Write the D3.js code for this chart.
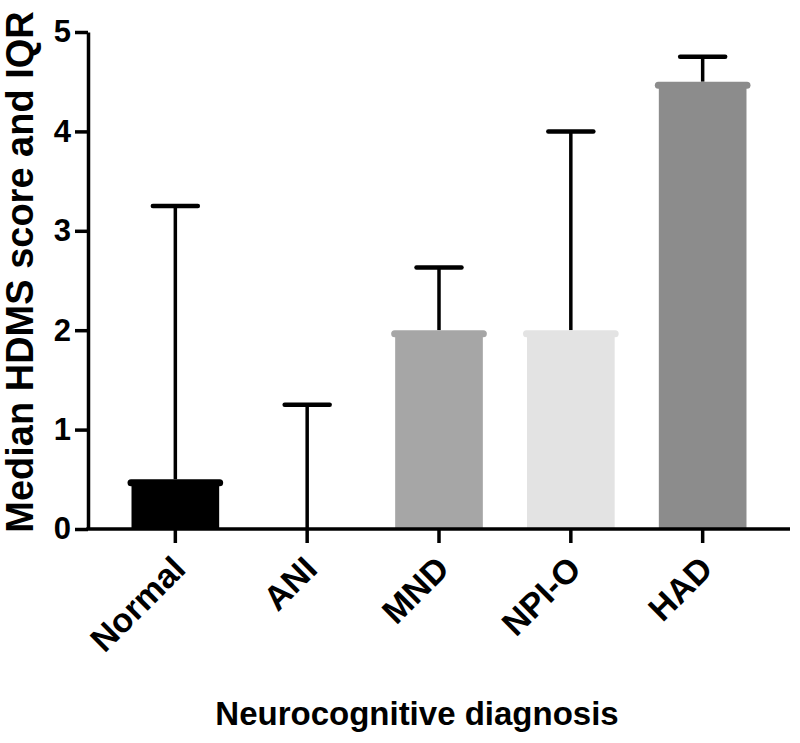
<!DOCTYPE html>
<html>
<head>
<meta charset="utf-8">
<script src="https://cdn.jsdelivr.net/npm/d3@7"></script>
<style>
  body { margin: 0; background: #fff; }
  text { font-family: "Liberation Sans", Arial, Helvetica, sans-serif; font-weight: bold; }
</style>
</head>
<body>
<div id="chart"></div>
<script>
var WIDTH = 800;
var HEIGHT = 743;

// data
var categories = ["Normal", "ANI", "MND", "NPI-O", "HAD"];
var medians = [0.5, 0, 2, 2, 4.5];
var upperIQR = [3.25, 1.25, 2.63, 4.0, 4.75];
var barColors = ["#000000", "#000000", "#a6a6a6", "#e3e3e3", "#8c8c8c"];
var yTicks = [0, 1, 2, 3, 4, 5];

var LEFT = 88, RIGHT = 790, TOP = 32, BOTTOM = 529;
var CAP = 7;        // thick rounded top edge of the bars
var WHISKER = 45;   // width of the error bar cap

var svg = d3.select("#chart").append("svg")
  .attr("width", WIDTH)
  .attr("height", HEIGHT);

var x = d3.scaleBand()
  .domain(categories)
  .range([LEFT, RIGHT])
  .paddingInner(0.335)
  .paddingOuter(0.33);

var y = d3.scaleLinear()
  .domain([0, 5])
  .range([BOTTOM, TOP]);

var rows = categories.map(function(c, i) {
  return {name: c, median: medians[i], upper: upperIQR[i], color: barColors[i]};
});

// error bars (drawn first so bars sit over the stem)
var eb = svg.append("g").selectAll("g")
  .data(rows)
  .enter()
  .append("g");

eb.append("line")
  .attr("x1", d => x(d.name) + x.bandwidth() / 2)
  .attr("x2", d => x(d.name) + x.bandwidth() / 2)
  .attr("y1", d => y(d.median))
  .attr("y2", d => y(d.upper))
  .attr("stroke", "#000")
  .attr("stroke-width", 3.5);

eb.append("line")
  .attr("x1", d => x(d.name) + x.bandwidth() / 2 - WHISKER / 2)
  .attr("x2", d => x(d.name) + x.bandwidth() / 2 + WHISKER / 2)
  .attr("y1", d => y(d.upper))
  .attr("y2", d => y(d.upper))
  .attr("stroke", "#000")
  .attr("stroke-width", 4.5)
  .attr("stroke-linecap", "round");

// bars
var bars = svg.append("g").selectAll("g")
  .data(rows.filter(d => d.median > 0))
  .enter()
  .append("g");

bars.append("rect")
  .attr("x", d => x(d.name))
  .attr("y", d => y(d.median) + CAP / 2)
  .attr("width", x.bandwidth())
  .attr("height", d => y(0) - y(d.median) - CAP / 2)
  .attr("fill", d => d.color);

bars.append("line")
  .attr("x1", d => x(d.name) - 0.5)
  .attr("x2", d => x(d.name) + x.bandwidth() + 0.5)
  .attr("y1", d => y(d.median) + CAP / 2)
  .attr("y2", d => y(d.median) + CAP / 2)
  .attr("stroke", d => d.color)
  .attr("stroke-width", CAP)
  .attr("stroke-linecap", "round");

// y axis
var yAxis = svg.append("g")
  .attr("transform", "translate(" + LEFT + ",0)")
  .call(d3.axisLeft(y).tickValues(yTicks).tickFormat(d3.format("d")).tickSize(13).tickSizeOuter(0).tickPadding(4));

yAxis.select(".domain").attr("stroke", "#000").attr("stroke-width", 3.5);
yAxis.selectAll(".tick line").attr("stroke", "#000").attr("stroke-width", 3.5);
yAxis.selectAll(".tick text")
  .style("font-size", "31px")
  .style("font-family", "'Liberation Sans', Arial, sans-serif")
  .style("font-weight", "bold")
  .attr("fill", "#000");

// x axis
var xAxis = svg.append("g")
  .attr("transform", "translate(0," + BOTTOM + ")")
  .call(d3.axisBottom(x).tickSize(14).tickSizeOuter(0));

xAxis.select(".domain").attr("stroke", "#000").attr("stroke-width", 3.5)
  .attr("d", "M" + (LEFT - 1.75) + ",0H" + RIGHT);
xAxis.selectAll(".tick line").attr("stroke", "#000").attr("stroke-width", 3.5);
xAxis.selectAll(".tick text")
  .style("font-size", "34px")
  .style("font-family", "'Liberation Sans', Arial, sans-serif")
  .style("font-weight", "bold")
  .attr("fill", "#000")
  .attr("text-anchor", "end")
  .attr("dy", "0")
  .attr("y", 0)
  .attr("transform", "translate(12,42) rotate(-45)");

// axis titles
svg.append("text")
  .attr("transform", "translate(33,272) rotate(-90)")
  .attr("text-anchor", "middle")
  .style("font-size", "38px")
  .attr("fill", "#000")
  .text("Median HDMS score and IQR");

svg.append("text")
  .attr("x", 417)
  .attr("y", 725)
  .attr("text-anchor", "middle")
  .style("font-size", "33px")
  .attr("fill", "#000")
  .text("Neurocognitive diagnosis");
</script>
</body>
</html>
